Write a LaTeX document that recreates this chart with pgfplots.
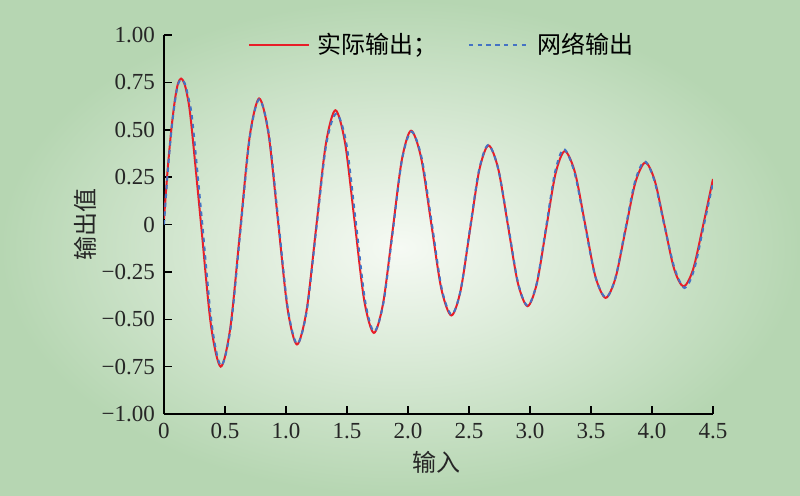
\documentclass[border=0pt]{standalone}
\usepackage{pgfplots}
\pgfplotsset{compat=1.18}
\usepackage{fontspec}
\setmainfont{Liberation Serif}
\newfontfamily\cjk{Noto Sans CJK SC}
\definecolor{bggreen}{RGB}{182,214,178}
\definecolor{bgcenter}{RGB}{246,250,244}
\definecolor{myred}{RGB}{232,30,40}
\definecolor{myblue}{RGB}{68,114,196}
\begin{document}
\begin{tikzpicture}
\useasboundingbox (-82pt,-40.5pt) rectangle (318pt,207pt);
\shade[inner color=bgcenter, outer color=bggreen] (-82pt,-40.5pt) rectangle (318pt,207pt);
\begin{axis}[
  at={(0,0)}, anchor=south west,
  scale only axis, width=274.5pt, height=189.5pt,
  xmin=0, xmax=4.5, ymin=-1, ymax=1,
  axis x line*=bottom, axis y line*=left,
  axis line style={black, line width=0.75pt},
  tick style={black, line width=0.75pt},
  tick align=inside, major tick length=4pt,
  xtick={0,0.5,1,1.5,2,2.5,3,3.5,4,4.5},
  xticklabels={0,0.5,1.0,1.5,2.0,2.5,3.0,3.5,4.0,4.5},
  ytick={-1,-0.75,-0.5,-0.25,0,0.25,0.5,0.75,1},
  yticklabels={−1.00,−0.75,−0.50,−0.25,0,0.25,0.50,0.75,1.00},
  ticklabel style={font=\fontsize{11.5}{12}\selectfont, text=black!85},
  xticklabel style={yshift=-1pt},
  yticklabel style={xshift=-1pt},
  xlabel={\cjk 输入}, ylabel={\cjk 输出值},
  label style={font=\fontsize{12}{13}\selectfont, text=black!85},
  xlabel style={at={(axis description cs:0.497,-0.127)}, anchor=center},
  ylabel style={at={(axis description cs:-0.144,0.5)}, anchor=center},
  legend columns=2,
  legend style={at={(axis description cs:0.508,0.974)}, anchor=center, draw=none, fill=none,
    font=\fontsize{12}{13}\selectfont\cjk, column sep=2pt,
    /tikz/every even column/.append style={column sep=13pt}},
  legend image code/.code={\draw[#1] (0cm,0cm) -- (1.05cm,0cm);},
]
\addplot[myred, line width=1pt, smooth] coordinates {
(0,0.03)(0.03,0.29)(0.06,0.50)(0.09,0.66)(0.115,0.745)(0.14,0.77)(0.165,0.748)(0.19,0.683)(0.221,0.547)(0.3025,0.01)(0.384,-0.527)(0.465,-0.75)(0.544,-0.543)(0.6225,-0.043)(0.701,0.458)(0.78,0.665)(0.8575,0.475)(0.935,0.016)(1.0125,-0.443)(1.09,-0.633)(1.169,-0.452)(1.2475,-0.015)(1.326,0.422)(1.405,0.603)(1.484,0.431)(1.5625,0.016)(1.641,-0.400)(1.72,-0.572)(1.796,-0.416)(1.8725,-0.039)(1.949,0.339)(2.025,0.495)(2.1075,0.352)(2.19,0.008)(2.2725,-0.337)(2.355,-0.48)(2.431,-0.349)(2.5075,-0.032)(2.584,0.286)(2.66,0.417)(2.74,0.293)(2.82,-0.007)(2.90,-0.307)(2.98,-0.431)(3.056,-0.311)(3.1325,-0.022)(3.209,0.267)(3.285,0.387)(3.369,0.274)(3.4525,0)(3.536,-0.274)(3.62,-0.387)(3.701,-0.282)(3.7825,-0.03)(3.864,0.222)(3.945,0.327)(4.023,0.231)(4.1015,0)(4.18,-0.231)(4.258,-0.327)(4.336,-0.239)(4.414,-0.02)(4.5,0.24)
};
\addlegendentry{实际输出；}
\addplot[myblue, line width=1pt, dash pattern=on 2.2pt off 2.2pt, smooth] coordinates {
(0,0.0)(0.03,0.27)(0.06,0.49)(0.09,0.65)(0.115,0.74)(0.142,0.765)(0.17,0.745)(0.198,0.675)(0.233,0.547)(0.313,0.01)(0.392,-0.527)(0.468,-0.745)(0.547,-0.543)(0.625,-0.043)(0.703,0.458)(0.78,0.66)(0.86,0.475)(0.938,0.016)(1.015,-0.443)(1.092,-0.63)(1.171,-0.452)(1.25,-0.015)(1.33,0.422)(1.412,0.585)(1.494,0.431)(1.572,0.016)(1.648,-0.400)(1.722,-0.565)(1.798,-0.416)(1.875,-0.039)(1.95,0.339)(2.028,0.49)(2.112,0.352)(2.195,0.008)(2.276,-0.337)(2.357,-0.475)(2.431,-0.349)(2.506,-0.032)(2.582,0.286)(2.658,0.42)(2.74,0.293)(2.822,-0.007)(2.902,-0.307)(2.98,-0.428)(3.055,-0.311)(3.13,-0.022)(3.205,0.275)(3.278,0.398)(3.365,0.274)(3.45,0)(3.535,-0.274)(3.622,-0.385)(3.70,-0.282)(3.78,-0.03)(3.86,0.225)(3.94,0.333)(4.02,0.231)(4.10,0)(4.185,-0.231)(4.268,-0.335)(4.345,-0.239)(4.42,-0.02)(4.5,0.22)
};
\addlegendentry{网络输出}
\end{axis}
\end{tikzpicture}
\end{document}
